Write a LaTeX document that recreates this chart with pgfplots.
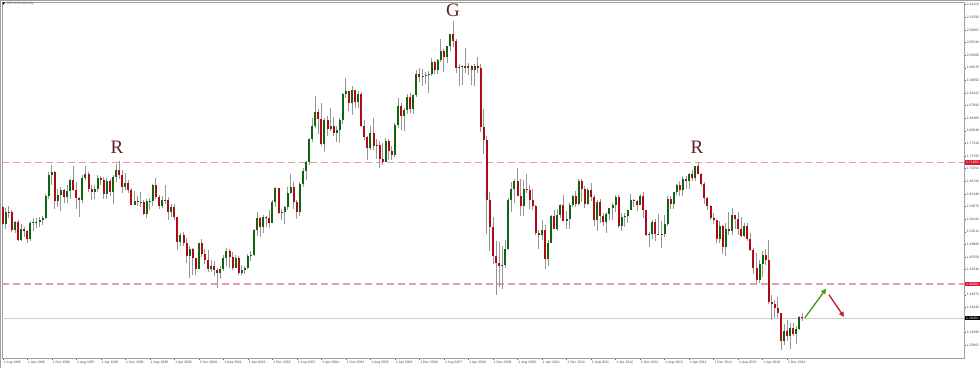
\documentclass[border=0pt]{standalone}
\usepackage{fontspec}
\setmainfont{Liberation Sans}
\newfontfamily\serifR{Liberation Serif}
\usepackage{pgfplots}
\pgfplotsset{compat=1.18}
\usepackage{pgfplotstable}
\usetikzlibrary{arrows.meta}
\definecolor{bull}{RGB}{16,100,16}
\definecolor{bear}{RGB}{175,10,20}
\definecolor{wick}{RGB}{150,150,150}
\definecolor{lvl}{RGB}{232,155,165}
\definecolor{lvlbox}{RGB}{215,20,50}
\definecolor{letter}{RGB}{90,35,35}
\definecolor{upar}{RGB}{70,150,20}
\definecolor{dnar}{RGB}{205,25,25}
\definecolor{axisgrey}{RGB}{160,160,160}
\newcommand\tinyf{\fontsize{3.4}{4}\selectfont}

\pgfplotstableread{
i o h l c
0 1.5955 1.6010 1.5320 1.5470
1 1.5470 1.5920 1.5330 1.5820
2 1.5820 1.5970 1.5640 1.5800
3 1.5800 1.5880 1.5260 1.5300
4 1.5300 1.5560 1.5240 1.5520
5 1.5520 1.5600 1.4990 1.5030
6 1.5030 1.5470 1.5000 1.5340
7 1.5340 1.5390 1.5120 1.5270
8 1.5270 1.5300 1.4950 1.5060
9 1.5060 1.5560 1.4990 1.5500
10 1.5500 1.5640 1.5290 1.5530
11 1.5530 1.5650 1.5360 1.5540
12 1.5540 1.5680 1.5390 1.5590
13 1.5590 1.5700 1.5450 1.5650
14 1.5650 1.6330 1.5610 1.6260
15 1.6260 1.6920 1.6170 1.6840
16 1.6840 1.7140 1.6560 1.6920
17 1.6920 1.6960 1.5910 1.6120
18 1.6120 1.6470 1.5960 1.6290
19 1.6290 1.6500 1.5850 1.6440
20 1.6440 1.6450 1.6070 1.6220
21 1.6220 1.6580 1.6060 1.6390
22 1.6390 1.6740 1.6170 1.6700
23 1.6700 1.7100 1.6400 1.6420
24 1.6420 1.6660 1.5910 1.6200
25 1.6200 1.6230 1.5680 1.6140
26 1.6140 1.6850 1.6070 1.6770
27 1.6770 1.7090 1.6700 1.6870
28 1.6870 1.6920 1.6360 1.6450
29 1.6450 1.6580 1.6160 1.6370
30 1.6370 1.6570 1.6180 1.6470
31 1.6470 1.6840 1.6380 1.6770
32 1.6770 1.6830 1.6570 1.6710
33 1.6710 1.6800 1.6180 1.6330
34 1.6330 1.6760 1.6170 1.6690
35 1.6690 1.6730 1.6250 1.6380
36 1.6380 1.6840 1.6050 1.6800
37 1.6800 1.7150 1.6650 1.7000
38 1.7000 1.7250 1.6750 1.6860
39 1.6860 1.6980 1.6350 1.6510
40 1.6510 1.6900 1.6420 1.6630
41 1.6630 1.6720 1.6340 1.6440
42 1.6440 1.6480 1.6000 1.6020
43 1.6020 1.6390 1.6010 1.6120
44 1.6120 1.6250 1.5990 1.6090
45 1.6090 1.6380 1.5950 1.6100
46 1.6100 1.6150 1.5720 1.5770
47 1.5770 1.6180 1.5640 1.6120
48 1.6120 1.6200 1.5870 1.6130
49 1.6130 1.6600 1.5980 1.6560
50 1.6560 1.6760 1.6180 1.6230
51 1.6230 1.6300 1.5900 1.5980
52 1.5980 1.6270 1.5930 1.6150
53 1.6150 1.6560 1.6050 1.6160
54 1.6160 1.6240 1.5600 1.5810
55 1.5810 1.6050 1.5660 1.5940
56 1.5940 1.6050 1.5580 1.5670
57 1.5670 1.5680 1.4750 1.4980
58 1.4980 1.5220 1.4850 1.5160
59 1.5160 1.5260 1.4860 1.4960
60 1.4960 1.5090 1.4400 1.4590
61 1.4590 1.4850 1.3970 1.4780
62 1.4780 1.4800 1.4060 1.4520
63 1.4520 1.4540 1.4060 1.4230
64 1.4230 1.4960 1.4220 1.4940
65 1.4940 1.5070 1.4560 1.4640
66 1.4640 1.4780 1.4370 1.4460
67 1.4460 1.4750 1.4130 1.4220
68 1.4220 1.4470 1.4130 1.4310
69 1.4310 1.4440 1.4020 1.4200
70 1.4200 1.4240 1.3680 1.4110
71 1.4110 1.4300 1.3930 1.4230
72 1.4230 1.4600 1.4150 1.4530
73 1.4530 1.4800 1.4310 1.4710
74 1.4710 1.4780 1.4250 1.4550
75 1.4550 1.4700 1.4180 1.4250
76 1.4250 1.4620 1.4240 1.4540
77 1.4540 1.4590 1.4050 1.4110
78 1.4110 1.4330 1.4050 1.4200
79 1.4200 1.4310 1.4070 1.4240
80 1.4240 1.4630 1.4210 1.4580
81 1.4580 1.4720 1.4450 1.4610
82 1.4610 1.5350 1.4570 1.5310
83 1.5310 1.5800 1.5150 1.5650
84 1.5650 1.5660 1.5110 1.5390
85 1.5390 1.5740 1.5220 1.5670
86 1.5670 1.5690 1.5400 1.5640
87 1.5640 1.5880 1.5370 1.5510
88 1.5510 1.6140 1.5500 1.6100
89 1.6100 1.6500 1.5950 1.6480
90 1.6480 1.6490 1.5750 1.5790
91 1.5790 1.5900 1.5580 1.5800
92 1.5800 1.5990 1.5480 1.5940
93 1.5940 1.6510 1.5870 1.6350
94 1.6350 1.6880 1.6330 1.6500
95 1.6500 1.6640 1.5910 1.6080
96 1.6080 1.6150 1.5620 1.5810
97 1.5810 1.6650 1.5710 1.6610
98 1.6610 1.7050 1.6520 1.6950
99 1.6950 1.7250 1.6710 1.7220
100 1.7220 1.7870 1.7130 1.7860
101 1.7860 1.8450 1.7770 1.8210
102 1.8210 1.9050 1.8150 1.8620
103 1.8620 1.8700 1.7990 1.8420
104 1.8420 1.8850 1.7650 1.7710
105 1.7710 1.8450 1.7480 1.8380
106 1.8380 1.8490 1.7930 1.8130
107 1.8130 1.8710 1.8080 1.8210
108 1.8210 1.8470 1.7930 1.8020
109 1.8020 1.8220 1.7760 1.8120
110 1.8120 1.8450 1.7740 1.8380
111 1.8380 1.9130 1.8270 1.9120
112 1.9120 1.9550 1.9010 1.9200
113 1.9200 1.9210 1.8640 1.8850
114 1.8850 1.9340 1.8520 1.9220
115 1.9220 1.9220 1.8730 1.8880
116 1.8880 1.9210 1.8730 1.9100
117 1.9100 1.9180 1.8190 1.8230
118 1.8230 1.8400 1.7830 1.7920
119 1.7920 1.7930 1.7280 1.7590
120 1.7590 1.8220 1.7560 1.8030
121 1.8030 1.8440 1.7560 1.7660
122 1.7660 1.7860 1.7290 1.7690
123 1.7690 1.7790 1.7040 1.7290
124 1.7290 1.7730 1.7130 1.7210
125 1.7210 1.7880 1.7210 1.7790
126 1.7790 1.7850 1.7280 1.7510
127 1.7510 1.7660 1.7270 1.7400
128 1.7400 1.8290 1.7340 1.8250
129 1.8250 1.9010 1.8150 1.8790
130 1.8790 1.8850 1.8120 1.8500
131 1.8500 1.8730 1.8090 1.8680
132 1.8680 1.9110 1.8560 1.9040
133 1.9040 1.9130 1.8580 1.8700
134 1.8700 1.9110 1.8550 1.9080
135 1.9080 1.9790 1.9040 1.9670
136 1.9670 1.9850 1.9440 1.9580
137 1.9580 1.9800 1.9340 1.9620
138 1.9620 1.9740 1.9390 1.9650
139 1.9650 1.9760 1.9150 1.9670
140 1.9670 2.0130 1.9630 2.0000
141 2.0000 2.0050 1.9660 1.9780
142 1.9780 2.0080 1.9680 2.0070
143 2.0070 2.0660 2.0000 2.0320
144 2.0320 2.0380 1.9720 2.0160
145 2.0160 2.0450 1.9970 2.0450
146 2.0450 2.0800 2.0320 2.0780
147 2.0780 2.1160 2.0440 2.0590
148 2.0590 2.0640 1.9710 1.9850
149 1.9850 1.9940 1.9340 1.9880
150 1.9880 1.9920 1.9370 1.9890
151 1.9890 2.0390 1.9710 1.9840
152 1.9840 1.9990 1.9650 1.9900
153 1.9900 1.9930 1.9360 1.9790
154 1.9790 1.9950 1.9350 1.9900
155 1.9900 2.0160 1.9690 1.9840
156 1.9840 1.9940 1.8050 1.8190
157 1.8190 1.8690 1.7440 1.7820
158 1.7820 1.7930 1.5200 1.6140
159 1.6140 1.6380 1.4710 1.5400
160 1.5400 1.5660 1.4350 1.4590
161 1.4590 1.5000 1.3500 1.4380
162 1.4380 1.4980 1.3720 1.4310
163 1.4310 1.4860 1.3660 1.4340
164 1.4340 1.5020 1.4250 1.4790
165 1.4790 1.6200 1.4750 1.6160
166 1.6160 1.6660 1.5800 1.6460
167 1.6460 1.6740 1.6060 1.6690
168 1.6690 1.7040 1.6260 1.6270
169 1.6270 1.6740 1.5710 1.5980
170 1.5980 1.6710 1.5710 1.6470
171 1.6470 1.6880 1.6340 1.6440
172 1.6440 1.6560 1.5910 1.6150
173 1.6150 1.6460 1.5880 1.5990
174 1.5990 1.6000 1.5160 1.5240
175 1.5240 1.5300 1.4780 1.5170
176 1.5170 1.5580 1.5030 1.5300
177 1.5300 1.5440 1.4230 1.4490
178 1.4490 1.5040 1.4310 1.4960
179 1.4960 1.5720 1.4960 1.5690
180 1.5690 1.5880 1.5340 1.5350
181 1.5350 1.5890 1.5290 1.5740
182 1.5740 1.6040 1.5650 1.6020
183 1.6020 1.6300 1.5550 1.5570
184 1.5570 1.5850 1.5340 1.5610
185 1.5610 1.6060 1.5350 1.6020
186 1.6020 1.6280 1.5940 1.6260
187 1.6260 1.6400 1.5940 1.6040
188 1.6040 1.6740 1.6000 1.6690
189 1.6690 1.6750 1.6080 1.6450
190 1.6450 1.6550 1.5920 1.6050
191 1.6050 1.6480 1.6020 1.6430
192 1.6430 1.6620 1.6130 1.6240
193 1.6240 1.6290 1.5430 1.5580
194 1.5580 1.6140 1.5270 1.6080
195 1.6080 1.6170 1.5500 1.5690
196 1.5690 1.5780 1.5420 1.5540
197 1.5540 1.5800 1.5230 1.5760
198 1.5760 1.5930 1.5600 1.5920
199 1.5920 1.6060 1.5600 1.6000
200 1.6000 1.6300 1.5800 1.6240
201 1.6240 1.6300 1.5370 1.5410
202 1.5410 1.5780 1.5270 1.5680
203 1.5680 1.5780 1.5400 1.5690
204 1.5690 1.5880 1.5510 1.5870
205 1.5870 1.6310 1.5860 1.6160
206 1.6160 1.6180 1.5960 1.6130
207 1.6130 1.6160 1.5830 1.6020
208 1.6020 1.6310 1.6010 1.6250
209 1.6250 1.6380 1.5650 1.5860
210 1.5860 1.5880 1.5140 1.5170
211 1.5170 1.5250 1.4830 1.5190
212 1.5190 1.5600 1.5070 1.5530
213 1.5530 1.5620 1.5000 1.5190
214 1.5190 1.5750 1.5180 1.5210
215 1.5210 1.5570 1.4810 1.5200
216 1.5200 1.5720 1.5120 1.5480
217 1.5480 1.6260 1.5430 1.6190
218 1.6190 1.6260 1.5890 1.6040
219 1.6040 1.6380 1.5900 1.6370
220 1.6370 1.6600 1.6290 1.6560
221 1.6560 1.6670 1.6250 1.6440
222 1.6440 1.6820 1.6250 1.6740
223 1.6740 1.6820 1.6450 1.6670
224 1.6670 1.6900 1.6460 1.6880
225 1.6880 1.6990 1.6690 1.6760
226 1.6760 1.7100 1.6690 1.7100
227 1.7100 1.7190 1.6880 1.6880
228 1.6880 1.6900 1.6530 1.6590
229 1.6590 1.6640 1.6050 1.6210
230 1.6210 1.6230 1.5870 1.5990
231 1.5990 1.6000 1.5590 1.5640
232 1.5640 1.5790 1.5490 1.5580
233 1.5580 1.5590 1.4950 1.5060
234 1.5060 1.5550 1.4950 1.5430
235 1.5430 1.5450 1.4630 1.4830
236 1.4830 1.5500 1.4570 1.5350
237 1.5350 1.5820 1.5170 1.5280
238 1.5280 1.5930 1.5170 1.5720
239 1.5720 1.5730 1.5330 1.5620
240 1.5620 1.5820 1.5160 1.5340
241 1.5340 1.5660 1.5110 1.5130
242 1.5130 1.5510 1.5110 1.5430
243 1.5430 1.5510 1.5000 1.5060
244 1.5060 1.5240 1.4730 1.4740
245 1.4740 1.4810 1.4080 1.4250
246 1.4250 1.4670 1.3840 1.3920
247 1.3920 1.4460 1.3830 1.4370
248 1.4370 1.4720 1.4000 1.4610
249 1.4610 1.4770 1.4330 1.4480
250 1.4480 1.5020 1.3230 1.3310
251 1.3310 1.3480 1.2800 1.3230
252 1.3230 1.3360 1.2860 1.3130
253 1.3130 1.3450 1.2850 1.2980
254 1.2980 1.2990 1.1950 1.2200
255 1.2200 1.2670 1.2080 1.2480
256 1.2480 1.2780 1.2200 1.2340
257 1.2340 1.2710 1.1990 1.2580
258 1.2580 1.2710 1.2340 1.2410
259 1.2410 1.2620 1.2110 1.2550
260 1.2550 1.2910 1.2510 1.2880
261 1.2880 1.2990 1.2770 1.2845
}\data

\begin{document}
\begin{tikzpicture}
\begin{axis}[
  at={(2pt,10pt)}, anchor=south west,
  scale only axis, width=962pt, height=356pt,
  xmin=-0.25, xmax=313.72, ymin=1.1730, ymax=2.1687,
  axis line style={draw=axisgrey, line width=0.8pt},
  xtick={0,8,...,256},
  xticklabels={1 Aug 1995,1 Apr 1996,1 Dec 1996,1 Aug 1997,1 Apr 1998,1 Dec 1998,1 Aug 1999,1 Apr 2000,1 Dec 2000,1 Aug 2001,1 Apr 2002,1 Dec 2002,1 Aug 2003,1 Apr 2004,1 Dec 2004,1 Aug 2005,1 Apr 2006,1 Dec 2006,1 Aug 2007,1 Apr 2008,1 Dec 2008,1 Aug 2009,1 Apr 2010,1 Dec 2010,1 Aug 2011,1 Apr 2012,1 Dec 2012,1 Aug 2013,1 Apr 2014,1 Dec 2014,1 Aug 2015,1 Apr 2016,1 Dec 2016},
  ytick={2.16118,2.12590,2.09062,2.05534,2.02006,1.98478,1.94950,1.91422,1.87894,1.84366,1.80838,1.77310,1.73782,1.70254,1.66726,1.63198,1.59670,1.56142,1.52614,1.49086,1.45558,1.42030,1.34974,1.31446,1.24390,1.20862},
  yticklabels={2.16118,2.12590,2.09062,2.05534,2.02006,1.98478,1.94950,1.91422,1.87894,1.84366,1.80838,1.77310,1.73782,1.70254,1.66726,1.63198,1.59670,1.56142,1.52614,1.49086,1.45558,1.42030,1.34974,1.31446,1.24390,1.20862},
  xtick pos=bottom, ytick pos=right, yticklabel pos=right,
  tick align=outside, major tick length=2.2pt,
  tick style={draw=black!60, line width=0.4pt},
  xticklabel style={anchor=north west, font=\tinyf, text=black!70, inner sep=0.4pt, xshift=0.3pt},
  yticklabel style={anchor=west, font=\tinyf, text=black!70, inner sep=0.4pt},
  clip=true,
]
% level lines
\addplot[lvl, dash pattern=on 7pt off 4pt, line width=1.2pt] coordinates {(-0.25,1.719) (313.72,1.719)};
\addplot[lvl, dash pattern=on 7pt off 4pt, line width=1.2pt] coordinates {(-0.25,1.380) (313.72,1.380)};
\addplot[black!20, line width=0.8pt] coordinates {(-0.25,1.2845) (313.72,1.2845)};
% wicks
\addplot[draw=none, no markers, error bars/.cd, y dir=plus, y explicit, error mark=none,
  error bar style={line width=1pt, draw=wick, solid}]
  table[x=i, y=l, y error plus expr={\thisrow{h}-\thisrow{l}}] {\data};
% bull bodies
\addplot[draw=none, no markers, restrict expr to domain={\thisrow{c}-\thisrow{o}}{0:1},
  error bars/.cd, y dir=plus, y explicit, error mark=none,
  error bar style={line width=2pt, draw=bull, solid}]
  table[x=i, y=o, y error plus expr={\thisrow{c}-\thisrow{o}}] {\data};
% bear bodies
\addplot[draw=none, no markers, restrict expr to domain={\thisrow{o}-\thisrow{c}}{0.00001:1},
  error bars/.cd, y dir=plus, y explicit, error mark=none,
  error bar style={line width=2pt, draw=bear, solid}]
  table[x=i, y=c, y error plus expr={\thisrow{o}-\thisrow{c}}] {\data};
% annotations
\node[font=\serifR\fontsize{19}{19}\selectfont, text=letter] at (axis cs:37.28,1.761) {R};
\node[font=\serifR\fontsize{19}{19}\selectfont, text=letter] at (axis cs:226.58,1.761) {R};
\node[font=\serifR\fontsize{19}{19}\selectfont, text=letter] at (axis cs:146.94,2.1463) {G};
\draw[upar, line width=1.3pt, -{Triangle[length=5pt,width=5pt]}] (axis cs:261.8,1.2854) -- (axis cs:268.7,1.3666);
\draw[dnar, line width=1.3pt, -{Triangle[length=5pt,width=5pt]}] (axis cs:269.65,1.3498) -- (axis cs:274.55,1.2882);
\coordinate (RR) at (axis cs:313.72,1.719);
\coordinate (SS) at (axis cs:313.72,1.380);
\coordinate (CC) at (axis cs:313.72,1.2845);
\end{axis}
\node[fill=lvlbox, text=white, font=\tinyf, inner sep=0.4pt, anchor=west, minimum height=4.6pt, minimum width=15pt] at ([xshift=0.6pt]RR) {1.71900};
\node[fill=lvlbox, text=white, font=\tinyf, inner sep=0.4pt, anchor=west, minimum height=4.6pt, minimum width=15pt] at ([xshift=0.6pt]SS) {1.38000};
\node[fill=black, text=white, font=\tinyf, inner sep=0.4pt, anchor=west, minimum height=4.6pt, minimum width=15pt] at ([xshift=0.6pt]CC) {1.28450};
\fill[black] (2.2pt,365.6pt) -- (5pt,365.6pt) -- (3.6pt,363.2pt) -- cycle;
\node[anchor=west, font=\tinyf, text=black!60, inner sep=0pt] at (6.5pt,364.4pt) {GBPUSD,Monthly};
\draw[axisgrey, line width=1.2pt] (0,367.4pt) -- (980pt,367.4pt);
\draw[axisgrey, line width=0.8pt] (0.4pt,0) -- (0.4pt,368pt);
\pgfresetboundingbox
\useasboundingbox (0,0) rectangle (980pt,368pt);
\end{tikzpicture}
\end{document}
